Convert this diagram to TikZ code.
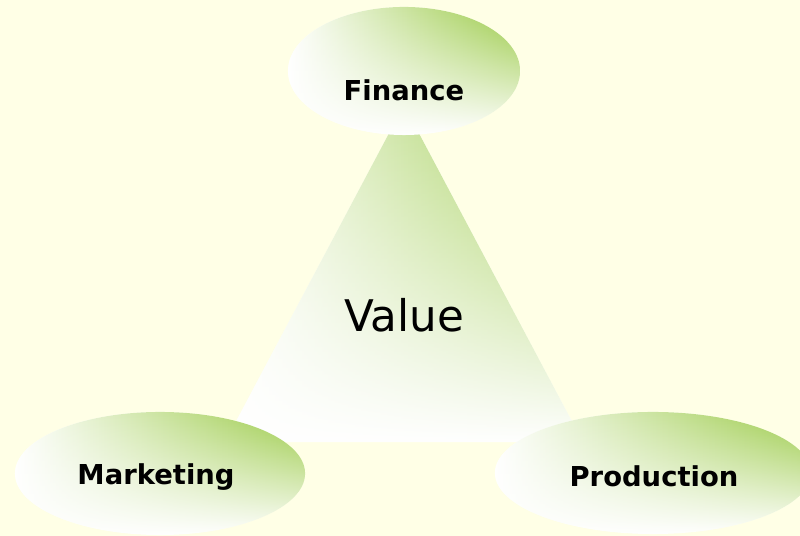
\documentclass[tikz,border=0pt]{standalone}
\usepackage{fontspec}
\setmainfont{DejaVu Sans}
\usepackage{xcolor}
\definecolor{Leaf-green}{RGB}{152,201,66}
\definecolor{Cream-bg}{RGB}{255,255,230}
\usetikzlibrary{shapes,fadings,positioning}
\tikzfading[name=fade-down, top color=transparent!0, middle color=transparent!15, bottom color=transparent!100]

\begin{document}
\begin{tikzpicture} [ % 先定义样式
            x=0.025cm, y=-0.025cm,
            oval/.style = {ellipse, inner sep=0pt, draw=none,
                preaction={fill=white},
                preaction={left color=white, middle color=Leaf-green!45, right color=Leaf-green, path fading=fade-down}},
            tri/.style = {draw=none,
                preaction={fill=white},
                preaction={left color=white, middle color=Leaf-green!45, right color=Leaf-green, path fading=fade-down}},
            tag/.style = {anchor=base, font=\bfseries\fontsize{19.5}{20}\selectfont},
            big/.style = {anchor=base, font=\fontsize{31}{32}\selectfont}
        ]

        % 背景
        \useasboundingbox (0,0) rectangle (800,536);
        \fill [Cream-bg] (0,0) rectangle (800,536);

        % 中间三角形
        \coordinate (apex) at (404,105);
        \coordinate (bl) at (225,442);
        \coordinate (br) at (583,442);
        \path [tri] (apex) -- (bl) -- (br) -- cycle;
        \node [big] (val) at (404,331.7) {Value};

        % 三个椭圆
        \node [oval, minimum width=5.8cm, minimum height=3.2cm] (fin) at (404,71) {};
        \node [oval, minimum width=7.25cm, minimum height=3.075cm] (mkt) at (160,473.5) {};
        \node [oval, minimum width=7.9cm, minimum height=3.05cm] (prd) at (653,473) {};

        % 文字
        \node [tag] (fin-t) at (404,100.7) {Finance};
        \node [tag] (mkt-t) at (156,484.3) {Marketing};
        \node [tag] (prd-t) at (654,486.7) {Production};

    \end{tikzpicture}
\end{document}
